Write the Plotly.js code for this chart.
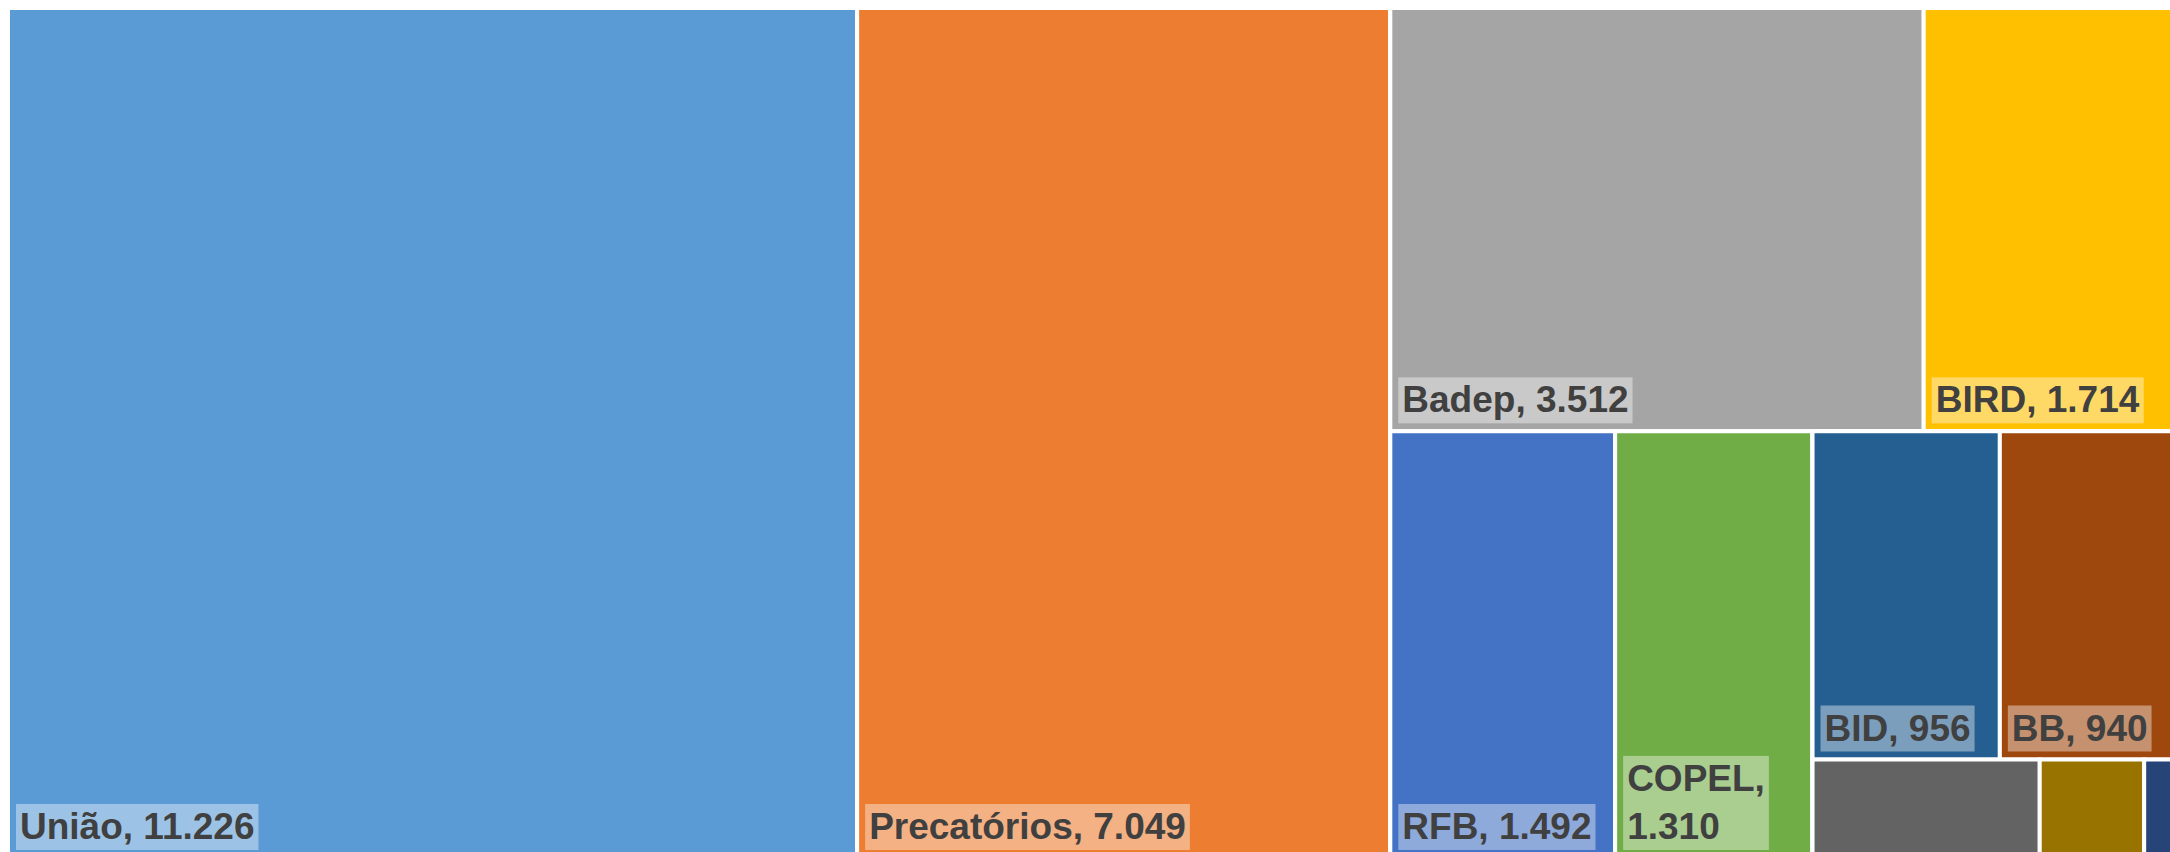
<!DOCTYPE html>
<html><head><meta charset="utf-8">
<script src="https://cdn.plot.ly/plotly-3.0.1.min.js"></script>
<style>html,body{margin:0;padding:0;overflow:hidden;background:#fff;width:2170px;height:852px}</style>
</head><body><div id="chart"></div>
<script>
// ---- data ----
const categories = ['União','Precatórios','Badep','BIRD','RFB','COPEL','BID','BB','Outros 1','Outros 2','Outros 3'];
const values     = [11226, 7049, 3512, 1714, 1492, 1310, 956, 940, 348, 160, 61];
// grouping used to reproduce the original (Excel) tiling
const groupOf      = ['', '', 'G2','G2','G3','G3','G5','G5','G6','G6','G6'];
const groupIds     = ['G1','G2','G3','G4','G5','G6'];
const groupParents = ['',  'G1','G1','G3','G4','G4'];
const labelled     = [true,true,true,true,true,true,true,true,false,false,false];
const wrapped      = ['COPEL'];
// ---- style ----
const palette = ['#5B9BD5','#ED7D31','#A5A5A5','#FFC000','#4472C4','#70AD47','#255E91','#9E480E','#636363','#997300','#264478'];
const LABEL_DX = 9, LABEL_DY = -8;

const fmt = v => String(v).replace(/\B(?=(\d{3})+(?!\d))/g, '.');

const ids = categories.concat(groupIds);
const labels = categories.concat(groupIds);
const parents = groupOf.concat(groupParents);
const vals = values.concat(groupIds.map(() => 0));
const texts = categories.map((c, i) => !labelled[i] ? '' :
  (wrapped.includes(c) ? c + ',<br>' + fmt(values[i]) : c + ', ' + fmt(values[i])))
  .concat(groupIds.map(() => ''));
const colors = palette.concat(groupIds.map(() => '#ffffff'));

const trace = {
  type: 'treemap',
  ids: ids, labels: labels, parents: parents, values: vals,
  branchvalues: 'remainder',
  sort: false,
  text: texts,
  textinfo: 'text',
  textposition: 'bottom left',
  textfont: {family: 'Liberation Sans, Arial, sans-serif', size: 37, color: '#404040', weight: 'bold'},
  marker: {colors: colors, line: {color: '#ffffff', width: 4}, pad: {t: 0, l: 0, r: 0, b: 0}, depthfade: false},
  tiling: {packing: 'slice-dice', pad: 0},
  pathbar: {visible: false},
  hoverinfo: 'label+value'
};

const layout = {
  width: 2192, height: 866,
  margin: {l: 8, r: 8, t: 8, b: 8},
  paper_bgcolor: '#ffffff',
  uniformtext: {mode: 'show', minsize: 37},
  showlegend: false
};

Plotly.newPlot('chart', [trace], layout, {displayModeBar: false, staticPlot: true}).then(gd => {
  const ns = 'http://www.w3.org/2000/svg';
  gd.querySelectorAll('g.slicetext text').forEach(t => {
    if (!t.textContent.trim()) return;
    const b = t.getBBox();
    const r = document.createElementNS(ns, 'rect');
    r.setAttribute('x', b.x - 4);
    r.setAttribute('y', b.y - 2);
    r.setAttribute('width', b.width + 8);
    r.setAttribute('height', b.height + 5);
    r.setAttribute('fill', 'rgba(255,255,255,0.4)');
    const tr = 'translate(' + LABEL_DX + ',' + LABEL_DY + ') ' + (t.getAttribute('transform') || '');
    t.setAttribute('transform', tr);
    r.setAttribute('transform', tr);
    t.parentNode.insertBefore(r, t);
  });
});
</script>
</body></html>
